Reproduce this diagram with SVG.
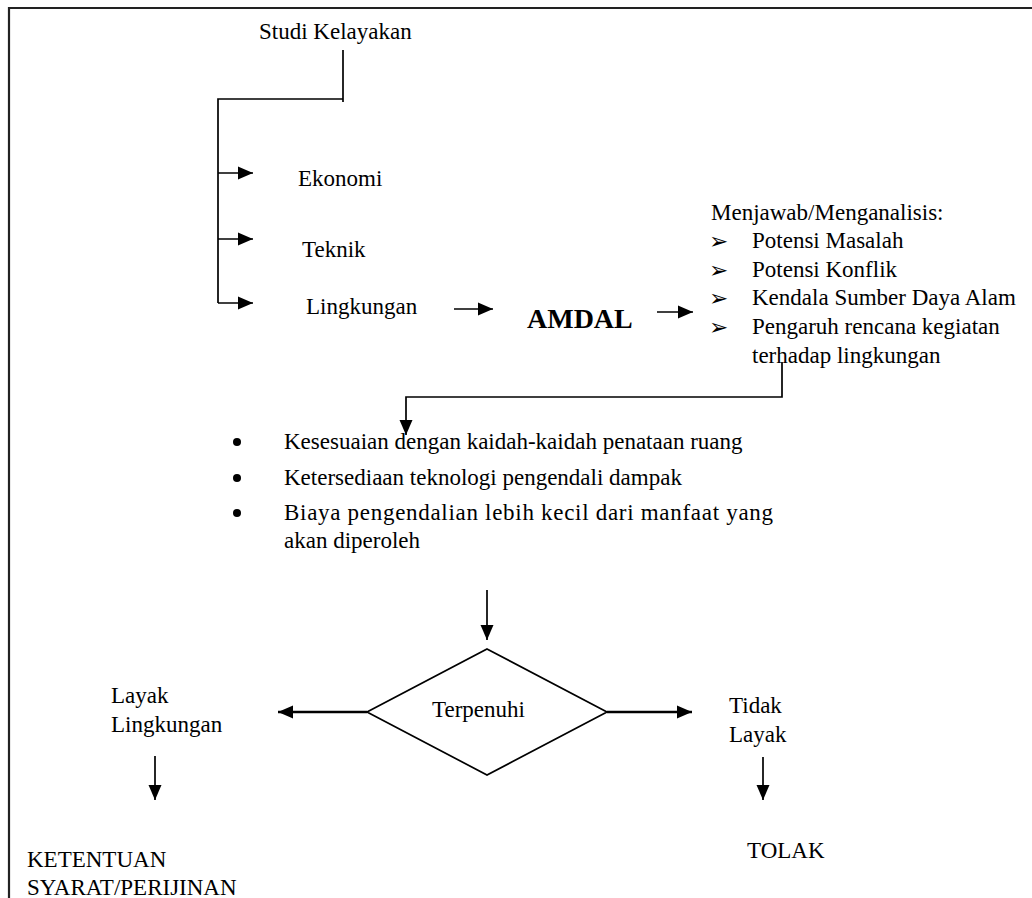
<svg xmlns="http://www.w3.org/2000/svg" width="1032" height="898" viewBox="0 0 1032 898">
<style>
text{font-family:"Liberation Serif","Times New Roman",serif;font-size:23px;fill:#000}
.b{font-weight:bold;font-size:28px}
.ln{fill:none;stroke:#000;stroke-width:1.7}
.thk{stroke-width:2.6}
.sym{font-family:"DejaVu Sans",sans-serif;font-size:23px}
</style>
<defs>
<marker id="ah" markerUnits="userSpaceOnUse" markerWidth="16" markerHeight="14" refX="15" refY="7" orient="auto">
<path d="M0,0.5 L15,7 L0,13.5 Z" fill="#000"/>
</marker>
</defs>
<rect width="1032" height="898" fill="#fff"/>
<path d="M9,898 V8 H1032" fill="none" stroke="#222" stroke-width="2.2"/>

<g id="connectors">
<path class="ln" d="M343,50 V102"/>
<path class="ln" d="M343,99 H218 V303"/>
<path class="ln" d="M218,173 H253" marker-end="url(#ah)"/>
<path class="ln" d="M218,239 H253" marker-end="url(#ah)"/>
<path class="ln" d="M218,303 H253" marker-end="url(#ah)"/>
<path class="ln" d="M454,309 H493" marker-end="url(#ah)"/>
<path class="ln" d="M657,312 H693" marker-end="url(#ah)"/>
<path class="ln" d="M782,362 V397 H406 V435" marker-end="url(#ah)"/>
<path class="ln" d="M487,590 V640" marker-end="url(#ah)"/>
<path class="ln thk" d="M367,712 H278" marker-end="url(#ah)"/>
<path class="ln thk" d="M607,712 H692" marker-end="url(#ah)"/>
<path class="ln" d="M155,756 V800" marker-end="url(#ah)"/>
<path class="ln" d="M763,757 V800" marker-end="url(#ah)"/>
</g>

<g id="studi"><text x="259" y="39">Studi Kelayakan</text></g>
<g id="ekonomi"><text x="298" y="186">Ekonomi</text></g>
<g id="teknik"><text x="302" y="257">Teknik</text></g>
<g id="lingkungan"><text x="306" y="314">Lingkungan</text></g>
<g id="amdal"><text class="b" x="527" y="328">AMDAL</text></g>

<g id="analisis">
<text x="711" y="220">Menjawab/Menganalisis:</text>
<text class="sym" x="709" y="249">➢</text>
<text x="752" y="248">Potensi Masalah</text>
<text class="sym" x="709" y="278">➢</text>
<text x="752" y="277">Potensi Konflik</text>
<text class="sym" x="709" y="306">➢</text>
<text x="752" y="305">Kendala Sumber Daya Alam</text>
<text class="sym" x="709" y="335">➢</text>
<text x="752" y="334">Pengaruh rencana kegiatan</text>
<text x="752" y="363">terhadap lingkungan</text>
</g>

<g id="kriteria">
<circle cx="237" cy="442" r="4"/>
<circle cx="237" cy="478" r="4"/>
<circle cx="237" cy="513" r="4"/>
<text x="284" y="449">Kesesuaian dengan kaidah-kaidah penataan ruang</text>
<text x="284" y="485">Ketersediaan teknologi pengendali dampak</text>
<text x="284" y="520" textLength="489" lengthAdjust="spacing">Biaya pengendalian lebih kecil dari manfaat yang</text>
<text x="284" y="548">akan diperoleh</text>
</g>

<g id="terpenuhi">
<polygon points="487,649 607,712 487,775 367,712" fill="none" stroke="#000" stroke-width="1.7"/>
<text x="432" y="717">Terpenuhi</text>
</g>

<g id="layak">
<text x="111" y="703">Layak</text>
<text x="111" y="732">Lingkungan</text>
</g>
<g id="tidaklayak">
<text x="729" y="713">Tidak</text>
<text x="729" y="742">Layak</text>
</g>
<g id="ketentuan">
<text x="27" y="867">KETENTUAN</text>
<text x="27" y="895">SYARAT/PERIJINAN</text>
</g>
<g id="tolak"><text x="747" y="858">TOLAK</text></g>
</svg>
